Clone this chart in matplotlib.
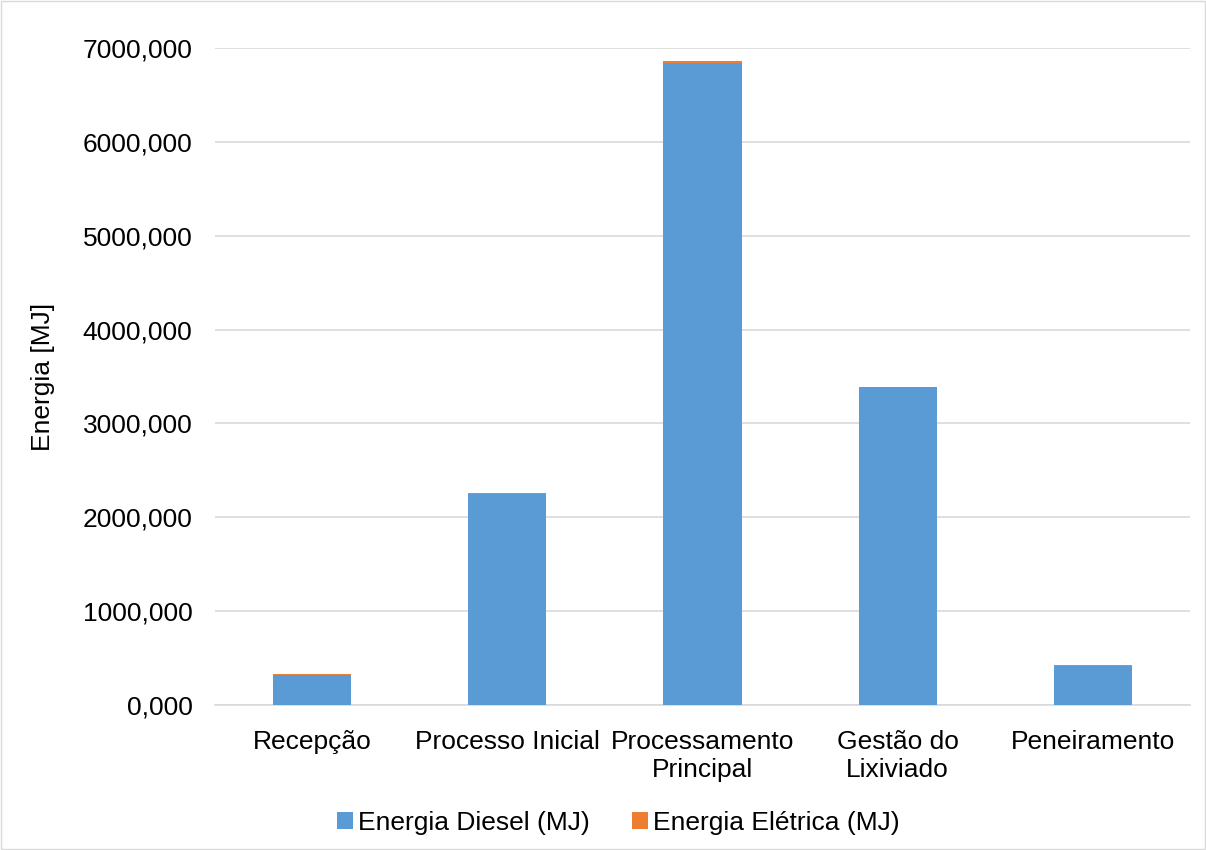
import matplotlib.pyplot as plt
import numpy as np

plt.rcParams['font.family'] = ['Liberation Sans', 'DejaVu Sans']

etapas = ['Recepção', 'Processo Inicial', 'Processamento\nPrincipal', 'Gestão do\nLixiviado', 'Peneiramento']
diesel = [318, 2252, 6835, 3385, 415]
eletrica = [8, 6, 25, 2, 12]

fig = plt.figure(figsize=(12.06, 8.5), dpi=100)
ax = fig.add_axes([0.178, 0.1706, 0.809, 0.773])

x = np.arange(len(etapas))
ax.bar(x, diesel, width=0.4, color='#5B9BD5', label='Energia Diesel (MJ)', zorder=3)
ax.bar(x, eletrica, width=0.4, bottom=diesel, color='#ED7D31', label='Energia Elétrica (MJ)', zorder=3)

ax.set_ylim(0, 7000)
ax.set_xlim(-0.5, len(etapas) - 0.5)
ax.set_yticks(np.arange(0, 7001, 1000))
ax.set_yticklabels([f'{v},000' for v in range(0, 7001, 1000)])
ax.set_xticks(x)
ax.set_xticklabels(etapas, linespacing=1.2)
ax.tick_params(axis='both', labelsize=19, length=0, colors='#000000')
ax.tick_params(axis='y', pad=16)
ax.tick_params(axis='x', pad=18)

ax.grid(axis='y', color='#d9d9d9', linewidth=1.2, zorder=0)
for s in ['top', 'right', 'left']:
    ax.spines[s].set_visible(False)
ax.spines['bottom'].set_color('#d9d9d9')
ax.spines['bottom'].set_linewidth(1.2)

ax.set_ylabel('Energia [MJ]', fontsize=19, labelpad=20)

fig.legend(loc='center', bbox_to_anchor=(0.513, 0.032), ncol=2, frameon=False,
           fontsize=19, handlelength=0.6, handleheight=0.6, handletextpad=0.2,
           columnspacing=1.6)

fig.patches.append(plt.Rectangle((0.001, 0.001), 0.998, 0.998, transform=fig.transFigure,
                                 fill=False, edgecolor='#d9d9d9', linewidth=1))

fig.savefig('out.png', dpi=100)
